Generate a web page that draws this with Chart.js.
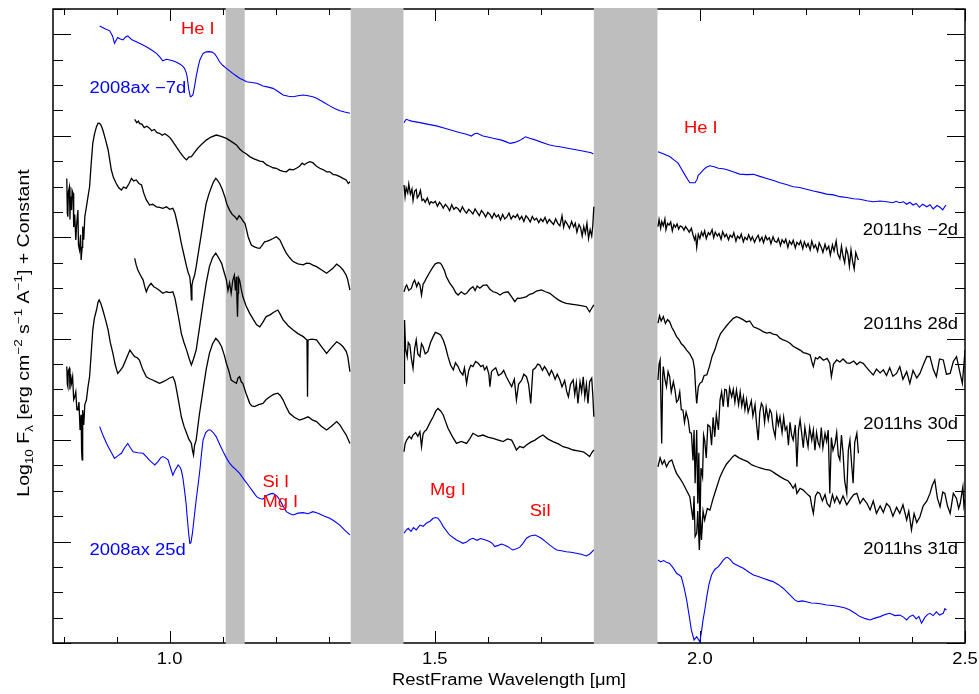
<!DOCTYPE html>
<html>
<head>
<meta charset="utf-8">
<script src="https://cdn.jsdelivr.net/npm/chart.js@4.4.1/dist/chart.umd.min.js"></script>
<style>
  html, body { margin: 0; padding: 0; background: #fff; }
  #wrap { width: 979px; height: 694px; }
</style>
</head>
<body>
<div id="wrap"><canvas id="chart" width="979" height="694"></canvas></div>
<script>
// спектры: [длина волны мкм, log F + константа], по сегментам между теллурическими окнами
const ax08m7 = [
  [[0.868,24.33],[0.878,24.22],[0.887,24.14],[0.892,23.95],[0.896,23.65],[0.902,23.88],[0.907,23.82],[0.912,23.78],[0.917,23.90],[0.921,23.94],[0.928,23.80],[0.937,23.71],[0.946,23.62],[0.956,23.51],[0.966,23.38],[0.975,23.25],[0.981,23.12],[0.987,22.96],[0.994,23.02],[1.000,22.99],[1.006,22.96],[1.013,22.90],[1.019,22.83],[1.024,22.76],[1.028,22.66],[1.031,22.50],[1.033,22.33],[1.036,21.83],[1.039,21.54],[1.041,21.56],[1.044,21.61],[1.047,21.95],[1.050,22.33],[1.054,22.75],[1.057,22.99],[1.063,23.25],[1.069,23.31],[1.075,23.32],[1.080,23.30],[1.085,23.23],[1.090,23.08],[1.094,22.92],[1.100,22.78],[1.107,22.66],[1.113,22.56],[1.119,22.46],[1.126,22.36],[1.132,22.27],[1.139,22.20],[1.145,22.13],[1.155,22.10],[1.164,22.07],[1.170,22.02],[1.176,21.96],[1.186,21.92],[1.195,21.87],[1.205,21.74],[1.214,21.61],[1.224,21.56],[1.233,21.54],[1.242,21.58],[1.252,21.61],[1.261,21.58],[1.270,21.54],[1.277,21.48],[1.283,21.41],[1.292,21.30],[1.302,21.18],[1.311,21.08],[1.321,20.99],[1.330,20.94],[1.340,20.89]],
  [[1.442,20.52],[1.446,20.65],[1.450,20.62],[1.456,20.58],[1.464,20.55],[1.472,20.52],[1.488,20.45],[1.503,20.39],[1.519,20.30],[1.535,20.20],[1.548,20.12],[1.560,20.06],[1.569,19.99],[1.575,20.08],[1.580,20.10],[1.591,19.99],[1.600,19.95],[1.610,19.90],[1.626,19.83],[1.635,19.76],[1.642,19.70],[1.651,19.74],[1.660,19.81],[1.667,19.90],[1.671,19.96],[1.679,19.90],[1.689,19.84],[1.698,19.77],[1.708,19.70],[1.717,19.64],[1.726,19.60],[1.736,19.57],[1.748,19.52],[1.761,19.47],[1.774,19.42],[1.786,19.37],[1.795,19.33],[1.799,19.28]],
  [[1.921,19.37],[1.932,19.28],[1.943,19.18],[1.951,19.05],[1.959,18.92],[1.965,18.70],[1.972,18.45],[1.977,18.28],[1.981,18.15],[1.991,18.15],[1.995,18.30],[1.997,18.45],[2.000,18.50],[2.006,18.65],[2.012,18.76],[2.019,18.82],[2.027,18.78],[2.035,18.72],[2.044,18.70],[2.053,18.65],[2.064,18.57],[2.075,18.49],[2.088,18.47],[2.101,18.48],[2.113,18.40],[2.126,18.32],[2.139,18.24],[2.151,18.15],[2.163,18.08],[2.176,17.99],[2.188,17.96],[2.201,17.89],[2.214,17.82],[2.226,17.77],[2.239,17.70],[2.252,17.67],[2.264,17.60],[2.277,17.57],[2.290,17.52],[2.302,17.50],[2.315,17.44],[2.327,17.40],[2.340,17.43],[2.352,17.40],[2.364,17.36],[2.370,17.42],[2.377,17.36],[2.384,17.40],[2.390,17.30],[2.396,17.38],[2.402,17.27],[2.408,17.33],[2.414,17.18],[2.420,17.30],[2.428,17.20],[2.434,17.28],[2.440,17.12],[2.447,17.25],[2.453,17.18],[2.458,17.08],[2.464,17.27]]
];

const hs11m2 = [
  [[0.934,20.65],[0.938,20.52],[0.941,20.58],[0.943,20.49],[0.948,20.45],[0.952,20.32],[0.957,20.38],[0.962,20.30],[0.966,20.20],[0.971,20.25],[0.976,20.12],[0.981,20.10],[0.986,20.02],[0.991,20.08],[0.997,19.99],[1.001,19.92],[1.006,19.77],[1.012,19.58],[1.019,19.37],[1.025,19.20],[1.029,19.10],[1.032,19.05],[1.036,19.16],[1.041,19.18],[1.047,19.35],[1.053,19.51],[1.061,19.68],[1.069,19.83],[1.078,19.95],[1.088,20.03],[1.097,19.98],[1.107,19.90],[1.116,19.78],[1.126,19.64],[1.132,19.48],[1.138,19.37],[1.145,19.28],[1.151,19.18],[1.158,19.10],[1.164,19.05],[1.170,19.00],[1.176,18.98],[1.183,18.85],[1.189,18.80],[1.195,18.74],[1.201,18.72],[1.208,18.64],[1.214,18.60],[1.220,18.58],[1.226,18.68],[1.233,18.66],[1.239,18.72],[1.245,18.80],[1.250,18.92],[1.254,18.86],[1.258,18.92],[1.264,18.98],[1.270,18.94],[1.277,18.80],[1.283,18.72],[1.290,18.66],[1.296,18.58],[1.302,18.58],[1.308,18.48],[1.315,18.45],[1.321,18.39],[1.327,18.32],[1.333,18.26],[1.337,18.12],[1.340,18.19]],
  [[1.442,18.06],[1.444,17.60],[1.446,17.95],[1.449,17.75],[1.451,18.10],[1.454,17.70],[1.457,17.90],[1.459,17.45],[1.462,17.82],[1.465,17.88],[1.467,17.55],[1.470,17.65],[1.473,17.85],[1.476,17.45],[1.479,17.50],[1.482,17.38],[1.486,17.55],[1.490,17.30],[1.493,17.40],[1.497,17.35],[1.501,17.42],[1.505,17.22],[1.509,17.38],[1.512,17.30],[1.516,17.15],[1.520,17.30],[1.524,17.20],[1.528,17.05],[1.532,17.28],[1.536,17.10],[1.540,17.18],[1.544,17.12],[1.548,17.00],[1.552,17.20],[1.556,17.05],[1.560,16.95],[1.564,17.10],[1.568,17.02],[1.572,16.92],[1.576,17.12],[1.580,16.98],[1.584,16.85],[1.588,17.05],[1.592,16.95],[1.596,16.80],[1.600,16.98],[1.604,16.90],[1.608,16.75],[1.612,16.95],[1.616,16.80],[1.620,16.88],[1.624,16.68],[1.628,16.90],[1.632,16.72],[1.636,16.80],[1.640,16.95],[1.644,16.72],[1.648,16.85],[1.652,16.78],[1.656,16.90],[1.660,16.70],[1.664,16.82],[1.668,16.62],[1.672,16.85],[1.676,16.75],[1.680,16.60],[1.684,16.82],[1.688,16.68],[1.692,16.75],[1.696,16.58],[1.700,16.72],[1.704,16.62],[1.708,16.78],[1.712,16.55],[1.716,16.70],[1.720,16.60],[1.724,16.50],[1.728,16.72],[1.732,16.55],[1.736,16.45],[1.740,16.85],[1.743,16.40],[1.746,16.65],[1.750,16.52],[1.754,16.35],[1.758,16.62],[1.762,16.40],[1.765,16.55],[1.768,16.20],[1.772,16.50],[1.775,16.38],[1.778,16.05],[1.781,16.42],[1.784,16.15],[1.787,16.55],[1.790,15.95],[1.793,16.30],[1.796,16.05],[1.798,16.45],[1.800,17.20]],
  [[1.921,16.42],[1.923,16.70],[1.926,16.35],[1.928,16.62],[1.931,16.45],[1.934,16.72],[1.936,16.30],[1.939,16.55],[1.942,16.48],[1.945,16.60],[1.948,16.25],[1.951,16.50],[1.954,16.40],[1.957,16.52],[1.960,16.32],[1.963,16.45],[1.967,16.40],[1.970,16.28],[1.973,16.42],[1.977,16.30],[1.980,16.20],[1.984,16.35],[1.987,16.10],[1.990,15.90],[1.992,16.05],[1.994,15.60],[1.997,16.12],[2.000,15.95],[2.003,16.20],[2.006,16.05],[2.009,16.25],[2.012,15.95],[2.016,16.18],[2.019,16.10],[2.023,16.30],[2.026,15.98],[2.029,16.20],[2.033,16.05],[2.036,16.15],[2.040,15.92],[2.043,16.22],[2.047,16.02],[2.050,16.12],[2.054,15.90],[2.057,16.08],[2.061,16.00],[2.064,16.18],[2.068,15.85],[2.071,16.05],[2.075,15.95],[2.078,16.12],[2.082,15.82],[2.085,16.00],[2.089,15.90],[2.092,16.10],[2.096,15.88],[2.099,16.02],[2.103,15.80],[2.106,15.95],[2.110,16.08],[2.113,15.85],[2.117,16.00],[2.120,15.78],[2.124,16.05],[2.127,15.90],[2.131,15.98],[2.134,15.75],[2.138,16.02],[2.141,15.85],[2.145,15.80],[2.148,15.95],[2.152,15.68],[2.155,15.90],[2.159,15.78],[2.162,15.92],[2.166,15.60],[2.169,15.85],[2.173,15.72],[2.176,15.88],[2.180,15.58],[2.183,15.80],[2.187,15.70],[2.190,15.85],[2.194,15.55],[2.197,15.82],[2.201,15.62],[2.204,15.75],[2.208,15.50],[2.211,15.85],[2.215,15.58],[2.218,15.70],[2.222,15.45],[2.225,15.78],[2.229,15.60],[2.232,15.40],[2.236,15.72],[2.239,15.50],[2.243,15.65],[2.246,15.30],[2.250,15.70],[2.253,15.45],[2.257,15.85],[2.260,15.35],[2.264,15.15],[2.267,15.65],[2.270,15.25],[2.273,15.00],[2.276,15.55],[2.279,15.35],[2.282,14.85],[2.285,15.50],[2.288,15.05],[2.291,14.75],[2.294,15.40],[2.297,15.20],[2.299,15.10]]
];

const hs11p28 = [
  [[0.806,18.32],[0.807,16.95],[0.808,16.81],[0.809,17.80],[0.811,17.99],[0.812,16.70],[0.813,17.60],[0.815,17.07],[0.816,17.85],[0.818,17.73],[0.819,16.40],[0.821,16.90],[0.823,15.89],[0.825,16.60],[0.827,17.07],[0.828,15.70],[0.830,15.50],[0.832,16.10],[0.833,15.10],[0.835,15.60],[0.836,16.42],[0.838,15.90],[0.840,16.81],[0.843,17.20],[0.846,17.60],[0.849,17.99],[0.852,18.90],[0.855,19.70],[0.858,20.05],[0.862,20.36],[0.865,20.50],[0.868,20.49],[0.871,20.40],[0.874,20.23],[0.879,19.85],[0.884,19.44],[0.887,19.05],[0.890,18.65],[0.894,18.35],[0.899,18.13],[0.904,17.95],[0.909,17.86],[0.913,17.98],[0.918,17.93],[0.923,18.10],[0.928,18.32],[0.932,18.22],[0.937,18.26],[0.942,18.12],[0.947,18.06],[0.951,17.75],[0.956,17.47],[0.960,17.35],[0.962,17.27],[0.968,17.30],[0.975,17.20],[0.981,17.18],[0.987,17.14],[0.994,17.20],[1.000,17.10],[1.006,17.14],[1.010,16.95],[1.013,16.68],[1.018,16.20],[1.022,15.76],[1.027,15.30],[1.032,14.84],[1.035,14.60],[1.038,14.44],[1.040,14.00],[1.041,13.53],[1.042,14.10],[1.044,14.31],[1.047,14.50],[1.050,14.84],[1.055,15.50],[1.060,16.16],[1.065,16.85],[1.069,17.34],[1.074,17.70],[1.079,17.99],[1.083,18.20],[1.087,18.32],[1.090,18.25],[1.094,18.13],[1.099,17.90],[1.104,17.60],[1.108,17.30],[1.113,17.07],[1.118,16.90],[1.123,16.81],[1.127,16.70],[1.131,16.85],[1.135,16.75],[1.139,16.62],[1.142,16.55],[1.145,16.30],[1.148,16.02],[1.151,15.85],[1.154,15.69],[1.160,15.62],[1.165,15.58],[1.170,15.56],[1.175,15.70],[1.179,15.82],[1.184,15.85],[1.189,15.89],[1.195,15.95],[1.201,16.02],[1.205,15.95],[1.208,15.89],[1.214,15.62],[1.220,15.37],[1.226,15.20],[1.233,15.04],[1.242,14.95],[1.252,14.91],[1.258,14.98],[1.264,14.97],[1.270,14.90],[1.277,14.84],[1.286,14.72],[1.296,14.58],[1.302,14.68],[1.308,14.78],[1.315,14.94],[1.321,14.85],[1.327,14.71],[1.333,14.50],[1.336,14.31],[1.340,13.92]],
  [[1.442,13.85],[1.445,14.05],[1.447,14.12],[1.451,13.90],[1.456,13.99],[1.459,14.20],[1.462,14.31],[1.466,14.05],[1.469,14.22],[1.472,14.12],[1.475,13.72],[1.478,14.15],[1.481,14.25],[1.484,14.38],[1.490,14.60],[1.497,14.84],[1.501,14.95],[1.506,15.00],[1.510,14.98],[1.513,14.91],[1.518,14.70],[1.522,14.44],[1.528,14.20],[1.535,13.99],[1.540,13.80],[1.544,13.72],[1.550,13.85],[1.556,13.75],[1.560,13.79],[1.566,13.95],[1.572,14.05],[1.576,13.90],[1.580,14.08],[1.585,13.99],[1.591,14.10],[1.598,14.12],[1.604,13.95],[1.610,13.85],[1.616,13.82],[1.623,13.72],[1.630,13.82],[1.638,13.85],[1.645,13.65],[1.651,13.46],[1.656,13.60],[1.660,13.59],[1.667,13.62],[1.673,13.66],[1.679,13.75],[1.685,13.79],[1.692,13.88],[1.701,13.92],[1.709,13.85],[1.717,13.79],[1.725,13.65],[1.733,13.53],[1.740,13.45],[1.748,13.39],[1.757,13.36],[1.767,13.33],[1.776,13.30],[1.786,13.26],[1.789,13.15],[1.792,13.06],[1.796,13.20],[1.800,13.33]],
  [[1.921,12.61],[1.924,12.90],[1.927,12.70],[1.931,12.87],[1.935,12.60],[1.939,12.75],[1.943,12.67],[1.947,12.45],[1.951,12.30],[1.956,12.08],[1.961,11.95],[1.965,11.80],[1.970,11.70],[1.975,11.55],[1.981,11.40],[1.987,11.16],[1.990,10.80],[1.992,10.00],[1.994,9.45],[1.997,10.10],[2.000,10.24],[2.004,10.30],[2.008,10.55],[2.013,10.57],[2.018,10.90],[2.023,11.30],[2.028,11.55],[2.034,11.95],[2.039,12.20],[2.044,12.34],[2.050,12.50],[2.057,12.67],[2.063,12.80],[2.069,12.87],[2.075,12.82],[2.082,12.74],[2.088,12.66],[2.094,12.70],[2.101,12.47],[2.107,12.42],[2.113,12.36],[2.119,12.28],[2.126,12.22],[2.132,12.25],[2.138,12.18],[2.145,12.15],[2.151,12.02],[2.157,11.95],[2.164,11.90],[2.170,11.82],[2.176,11.70],[2.183,11.62],[2.189,11.55],[2.195,11.45],[2.201,11.42],[2.208,11.36],[2.211,11.10],[2.214,10.90],[2.218,11.25],[2.222,11.20],[2.226,11.29],[2.233,11.15],[2.240,11.22],[2.245,11.03],[2.248,10.50],[2.252,11.00],[2.258,11.16],[2.264,11.08],[2.270,11.20],[2.277,11.05],[2.283,11.03],[2.290,11.12],[2.296,10.98],[2.302,11.08],[2.308,11.03],[2.315,10.85],[2.321,10.70],[2.327,10.57],[2.333,10.80],[2.340,10.65],[2.346,10.77],[2.352,10.55],[2.358,10.85],[2.364,10.52],[2.371,10.63],[2.377,10.90],[2.383,10.40],[2.390,10.70],[2.396,10.24],[2.402,10.75],[2.409,10.45],[2.415,10.63],[2.421,10.95],[2.428,11.30],[2.434,11.29],[2.440,10.80],[2.446,10.50],[2.452,11.20],[2.459,11.16],[2.465,10.60],[2.472,10.63],[2.478,11.10],[2.484,11.29],[2.490,10.70],[2.495,10.24],[2.498,11.00],[2.500,11.55]]
];

const hs11p30 = [
  [[0.934,15.17],[0.937,14.90],[0.940,14.71],[0.945,14.50],[0.950,14.31],[0.953,14.05],[0.956,13.85],[0.960,14.05],[0.965,14.18],[0.970,14.05],[0.975,13.99],[0.981,13.90],[0.987,13.79],[0.994,13.85],[1.000,13.82],[1.006,13.85],[1.010,13.60],[1.013,13.26],[1.018,12.70],[1.022,12.21],[1.027,11.85],[1.032,11.55],[1.037,11.20],[1.041,10.96],[1.045,11.20],[1.050,11.55],[1.056,12.40],[1.063,13.39],[1.069,14.20],[1.075,14.84],[1.081,15.20],[1.087,15.37],[1.092,15.20],[1.098,14.97],[1.103,14.60],[1.107,14.31],[1.110,13.90],[1.113,14.20],[1.116,13.79],[1.119,14.30],[1.122,14.50],[1.124,13.90],[1.126,14.44],[1.127,13.50],[1.128,12.87],[1.129,13.80],[1.130,14.40],[1.132,14.31],[1.135,13.95],[1.138,13.66],[1.144,13.30],[1.151,13.00],[1.158,12.75],[1.164,12.55],[1.170,12.47],[1.176,12.65],[1.182,12.87],[1.190,12.95],[1.197,13.05],[1.204,13.13],[1.209,12.95],[1.214,12.74],[1.224,12.50],[1.233,12.34],[1.242,12.20],[1.252,12.08],[1.259,11.95],[1.260,9.71],[1.261,11.95],[1.268,11.98],[1.277,11.95],[1.286,11.70],[1.296,11.42],[1.305,11.65],[1.315,11.88],[1.321,11.80],[1.327,11.68],[1.333,11.50],[1.336,11.29],[1.340,10.70]],
  [[1.442,10.24],[1.443,12.74],[1.445,11.60],[1.448,11.29],[1.450,11.85],[1.453,11.75],[1.456,11.20],[1.459,10.83],[1.462,11.60],[1.465,11.95],[1.468,11.40],[1.472,11.29],[1.475,11.80],[1.478,11.68],[1.482,11.40],[1.487,11.49],[1.492,11.85],[1.497,12.08],[1.501,12.25],[1.506,12.21],[1.511,12.15],[1.516,11.95],[1.520,11.70],[1.525,11.29],[1.530,10.95],[1.535,10.77],[1.539,11.05],[1.544,10.90],[1.548,10.70],[1.553,10.57],[1.556,10.85],[1.560,10.24],[1.564,10.75],[1.568,10.95],[1.572,10.90],[1.577,11.10],[1.582,11.03],[1.587,10.90],[1.591,10.95],[1.594,10.77],[1.598,10.90],[1.602,10.60],[1.604,10.11],[1.607,10.70],[1.610,10.77],[1.615,10.85],[1.620,10.55],[1.626,10.63],[1.630,10.75],[1.635,10.50],[1.640,10.30],[1.645,10.11],[1.650,10.40],[1.654,9.58],[1.658,10.20],[1.664,10.37],[1.668,10.60],[1.673,10.50],[1.677,10.20],[1.681,9.45],[1.685,10.77],[1.690,10.85],[1.694,11.00],[1.698,10.96],[1.703,10.75],[1.707,10.90],[1.711,10.77],[1.716,10.55],[1.720,10.75],[1.723,10.63],[1.727,10.40],[1.731,10.60],[1.736,10.37],[1.740,10.10],[1.745,10.35],[1.749,9.90],[1.752,9.71],[1.756,10.20],[1.761,10.37],[1.764,9.80],[1.767,10.25],[1.770,9.45],[1.774,10.30],[1.777,9.90],[1.780,10.50],[1.783,9.70],[1.786,10.20],[1.789,9.45],[1.792,10.30],[1.796,10.44],[1.798,9.80],[1.800,8.92]],
  [[1.921,10.37],[1.923,11.00],[1.925,11.16],[1.928,7.87],[1.930,10.60],[1.931,10.90],[1.934,10.40],[1.937,10.11],[1.940,10.70],[1.943,10.50],[1.946,9.90],[1.950,10.30],[1.953,9.98],[1.956,9.50],[1.959,9.58],[1.962,9.90],[1.965,9.20],[1.968,9.19],[1.971,8.70],[1.974,9.10],[1.978,8.79],[1.981,8.30],[1.984,8.27],[1.987,7.20],[1.989,8.40],[1.991,6.30],[1.994,8.40],[1.996,5.50],[1.998,7.50],[2.000,4.33],[2.002,6.90],[2.005,6.56],[2.007,8.20],[2.009,8.00],[2.012,7.30],[2.015,8.60],[2.019,8.53],[2.022,7.80],[2.025,8.90],[2.028,8.13],[2.031,9.00],[2.035,8.40],[2.038,9.58],[2.041,9.90],[2.044,9.32],[2.047,10.00],[2.050,9.98],[2.053,9.30],[2.056,10.05],[2.060,9.71],[2.063,10.00],[2.066,9.50],[2.069,9.98],[2.073,9.40],[2.076,9.90],[2.079,9.35],[2.082,9.71],[2.085,9.20],[2.088,9.60],[2.091,9.10],[2.094,9.32],[2.097,9.55],[2.100,8.95],[2.104,9.40],[2.107,8.60],[2.110,8.00],[2.113,9.10],[2.116,9.45],[2.119,9.32],[2.122,8.70],[2.125,9.30],[2.129,8.80],[2.132,9.20],[2.135,9.06],[2.138,8.50],[2.142,8.13],[2.145,9.00],[2.148,8.60],[2.151,8.92],[2.155,8.30],[2.158,8.90],[2.161,8.40],[2.164,8.53],[2.167,7.80],[2.170,8.70],[2.173,8.20],[2.176,8.00],[2.180,8.60],[2.183,6.95],[2.186,8.40],[2.189,8.80],[2.192,8.27],[2.195,7.70],[2.198,8.50],[2.201,8.10],[2.204,7.74],[2.207,8.50],[2.211,8.00],[2.214,8.40],[2.217,7.60],[2.220,8.30],[2.223,7.90],[2.226,7.74],[2.229,8.50],[2.232,7.70],[2.236,8.27],[2.239,7.95],[2.242,8.40],[2.245,5.90],[2.248,8.10],[2.251,7.60],[2.255,7.87],[2.258,8.30],[2.261,7.40],[2.264,7.22],[2.267,8.20],[2.270,7.50],[2.273,6.40],[2.277,5.90],[2.280,7.60],[2.283,8.00],[2.286,7.10],[2.289,6.30],[2.292,7.90],[2.296,8.27],[2.299,7.48]]
];

const hs11p31 = [
  [[0.806,10.90],[0.807,10.20],[0.808,10.11],[0.809,10.75],[0.811,10.83],[0.812,10.00],[0.813,10.60],[0.815,10.24],[0.817,10.50],[0.819,9.60],[0.821,9.71],[0.823,9.90],[0.825,9.20],[0.827,9.19],[0.829,9.50],[0.831,8.40],[0.832,8.40],[0.833,9.00],[0.834,7.50],[0.835,7.22],[0.836,9.19],[0.838,8.60],[0.840,9.40],[0.843,9.58],[0.846,10.10],[0.849,10.50],[0.852,11.40],[0.855,12.34],[0.858,12.80],[0.862,13.13],[0.865,13.45],[0.867,13.53],[0.870,13.40],[0.874,13.13],[0.879,12.75],[0.884,12.34],[0.888,11.85],[0.893,11.42],[0.897,11.00],[0.902,10.63],[0.907,10.75],[0.912,10.90],[0.918,11.20],[0.925,11.55],[0.930,11.40],[0.934,11.29],[0.939,11.25],[0.943,11.16],[0.949,10.80],[0.956,10.50],[0.962,10.42],[0.968,10.37],[0.975,10.30],[0.981,10.24],[0.987,10.30],[0.994,10.37],[1.000,10.45],[1.006,10.50],[1.010,10.30],[1.013,9.98],[1.018,9.40],[1.022,8.92],[1.027,8.55],[1.032,8.27],[1.036,8.05],[1.041,7.87],[1.043,7.60],[1.045,7.41],[1.047,7.80],[1.050,8.00],[1.056,9.00],[1.063,9.98],[1.069,10.80],[1.075,11.42],[1.081,11.80],[1.087,12.01],[1.092,11.90],[1.098,11.68],[1.103,11.35],[1.107,11.03],[1.112,10.70],[1.116,10.37],[1.121,10.30],[1.126,10.24],[1.129,10.45],[1.132,10.50],[1.135,10.30],[1.138,10.24],[1.144,9.85],[1.151,9.45],[1.155,9.35],[1.160,9.32],[1.168,9.40],[1.176,9.45],[1.182,9.60],[1.189,9.71],[1.196,9.80],[1.204,9.85],[1.209,9.75],[1.214,9.58],[1.220,9.30],[1.226,9.06],[1.235,8.90],[1.245,8.79],[1.253,8.85],[1.261,8.92],[1.269,8.80],[1.277,8.73],[1.286,8.55],[1.296,8.40],[1.305,8.55],[1.315,8.73],[1.321,8.60],[1.327,8.40],[1.333,8.20],[1.340,7.87]],
  [[1.442,7.54],[1.444,7.85],[1.447,8.00],[1.452,8.15],[1.456,8.05],[1.459,8.20],[1.464,8.30],[1.468,8.15],[1.472,8.33],[1.475,7.74],[1.478,8.25],[1.481,8.35],[1.484,8.40],[1.490,8.65],[1.497,8.92],[1.502,9.15],[1.506,9.25],[1.511,9.15],[1.516,8.99],[1.520,8.75],[1.525,8.47],[1.533,8.15],[1.541,7.87],[1.550,7.95],[1.560,7.87],[1.566,8.05],[1.572,8.27],[1.582,8.15],[1.591,8.20],[1.600,8.12],[1.610,8.07],[1.620,8.00],[1.629,7.94],[1.637,8.05],[1.645,8.00],[1.650,7.80],[1.654,7.61],[1.660,7.75],[1.667,7.70],[1.673,7.81],[1.681,7.92],[1.689,8.00],[1.697,8.12],[1.704,8.20],[1.713,8.05],[1.723,7.94],[1.733,7.85],[1.742,7.74],[1.752,7.68],[1.761,7.61],[1.770,7.58],[1.780,7.54],[1.786,7.45],[1.792,7.35],[1.796,7.50],[1.800,7.61]],
  [[1.921,6.95],[1.925,7.30],[1.929,7.05],[1.933,7.20],[1.937,6.95],[1.942,7.15],[1.947,7.22],[1.952,6.90],[1.956,6.69],[1.962,6.50],[1.968,6.30],[1.974,6.05],[1.981,5.77],[1.984,5.30],[1.987,4.85],[1.989,5.80],[1.991,4.20],[1.994,4.33],[1.996,5.20],[1.999,3.67],[2.001,5.00],[2.003,4.06],[2.006,5.20],[2.009,4.85],[2.014,5.30],[2.019,5.24],[2.025,5.70],[2.032,6.16],[2.038,6.55],[2.044,6.82],[2.050,7.05],[2.057,7.22],[2.062,7.35],[2.066,7.41],[2.074,7.30],[2.082,7.22],[2.090,7.15],[2.098,7.02],[2.107,6.95],[2.115,6.90],[2.123,6.85],[2.132,6.82],[2.141,6.70],[2.151,6.56],[2.160,6.45],[2.166,6.40],[2.170,6.30],[2.176,6.10],[2.180,6.25],[2.183,5.90],[2.189,6.10],[2.195,6.03],[2.201,5.90],[2.208,5.77],[2.211,5.40],[2.214,5.11],[2.218,5.80],[2.222,5.95],[2.226,5.90],[2.231,5.60],[2.236,5.85],[2.240,5.50],[2.245,5.37],[2.250,5.85],[2.254,5.55],[2.258,5.77],[2.264,5.50],[2.270,5.80],[2.277,5.45],[2.283,5.64],[2.290,5.85],[2.296,5.90],[2.302,5.50],[2.308,5.70],[2.315,5.51],[2.321,5.25],[2.327,5.60],[2.333,5.11],[2.340,5.40],[2.346,5.15],[2.352,5.50],[2.358,5.37],[2.364,5.00],[2.371,5.35],[2.377,5.11],[2.383,5.45],[2.390,4.85],[2.394,5.20],[2.399,4.46],[2.404,5.10],[2.409,4.75],[2.415,4.98],[2.421,5.40],[2.428,5.60],[2.434,5.90],[2.438,6.20],[2.443,6.43],[2.448,5.70],[2.453,5.37],[2.458,5.95],[2.462,5.90],[2.467,5.40],[2.472,5.11],[2.478,5.90],[2.484,5.70],[2.488,5.30],[2.491,5.51],[2.494,5.90],[2.496,6.16],[2.498,5.40],[2.500,5.64]]
];

const ax08p25 = [
  [[0.868,8.53],[0.874,8.20],[0.881,7.87],[0.889,7.55],[0.896,7.28],[0.902,7.38],[0.909,7.48],[0.915,7.70],[0.921,7.87],[0.926,7.70],[0.931,7.54],[0.940,7.50],[0.950,7.48],[0.956,7.35],[0.962,7.20],[0.968,7.09],[0.972,7.02],[0.978,7.15],[0.983,7.30],[0.987,7.35],[0.992,7.30],[0.997,7.22],[1.001,6.95],[1.006,6.62],[1.010,6.80],[1.016,7.02],[1.019,6.95],[1.022,6.82],[1.025,6.50],[1.028,6.03],[1.031,5.50],[1.033,4.98],[1.036,4.30],[1.038,3.93],[1.040,3.95],[1.043,4.33],[1.046,4.90],[1.050,5.64],[1.054,6.30],[1.057,6.82],[1.060,7.45],[1.063,8.00],[1.068,8.30],[1.073,8.40],[1.077,8.40],[1.082,8.30],[1.088,8.13],[1.094,7.85],[1.101,7.54],[1.107,7.30],[1.113,7.09],[1.119,6.95],[1.126,6.82],[1.132,6.69],[1.140,6.45],[1.148,6.23],[1.156,6.00],[1.164,5.77],[1.170,5.70],[1.176,5.67],[1.181,5.78],[1.185,5.84],[1.190,5.88],[1.195,5.90],[1.202,5.80],[1.208,5.64],[1.214,5.40],[1.220,5.18],[1.227,5.10],[1.233,5.05],[1.242,5.12],[1.252,5.14],[1.261,5.10],[1.270,5.18],[1.277,5.14],[1.283,5.09],[1.292,5.00],[1.302,4.92],[1.311,4.80],[1.321,4.65],[1.330,4.45],[1.340,4.26]],
  [[1.442,4.33],[1.446,4.45],[1.450,4.52],[1.455,4.40],[1.460,4.55],[1.465,4.46],[1.472,4.65],[1.478,4.60],[1.484,4.72],[1.491,4.80],[1.497,4.92],[1.502,4.95],[1.506,4.92],[1.511,4.78],[1.516,4.59],[1.522,4.42],[1.528,4.26],[1.535,4.15],[1.541,4.06],[1.547,4.00],[1.553,3.93],[1.560,3.98],[1.566,4.08],[1.572,4.13],[1.580,4.05],[1.586,4.12],[1.591,4.09],[1.597,4.05],[1.604,3.99],[1.609,3.92],[1.613,3.80],[1.620,3.85],[1.626,3.90],[1.632,3.85],[1.638,3.80],[1.643,3.72],[1.647,3.67],[1.654,3.72],[1.660,3.77],[1.666,3.92],[1.673,4.13],[1.680,4.22],[1.689,4.26],[1.695,4.20],[1.701,4.13],[1.709,4.00],[1.717,3.86],[1.724,3.75],[1.730,3.67],[1.739,3.64],[1.748,3.60],[1.757,3.58],[1.767,3.54],[1.776,3.50],[1.786,3.43],[1.793,3.52],[1.800,3.67]],
  [[1.921,3.27],[1.926,3.20],[1.932,3.25],[1.937,3.18],[1.943,3.14],[1.950,2.95],[1.956,2.75],[1.961,2.68],[1.965,2.61],[1.970,2.20],[1.975,1.70],[1.980,1.05],[1.984,0.51],[1.989,0.12],[1.994,0.25],[2.000,0.05],[2.003,0.45],[2.006,0.91],[2.010,1.40],[2.013,1.83],[2.017,2.30],[2.022,2.68],[2.028,2.90],[2.035,3.01],[2.040,3.15],[2.044,3.27],[2.048,3.35],[2.052,3.38],[2.057,3.30],[2.063,3.14],[2.072,3.05],[2.082,2.95],[2.092,2.80],[2.101,2.68],[2.110,2.62],[2.119,2.55],[2.129,2.48],[2.138,2.42],[2.148,2.30],[2.157,2.16],[2.165,2.00],[2.173,1.83],[2.179,1.70],[2.185,1.63],[2.193,1.66],[2.201,1.63],[2.210,1.58],[2.220,1.57],[2.230,1.54],[2.239,1.50],[2.250,1.48],[2.264,1.43],[2.274,1.38],[2.283,1.30],[2.292,1.18],[2.302,1.04],[2.312,0.96],[2.321,0.91],[2.330,0.98],[2.340,1.04],[2.349,1.12],[2.358,1.17],[2.368,1.08],[2.377,1.10],[2.384,1.02],[2.390,0.91],[2.396,1.05],[2.402,1.10],[2.408,0.95],[2.413,1.05],[2.418,0.78],[2.424,1.00],[2.429,1.12],[2.434,1.17],[2.440,1.08],[2.446,1.23],[2.452,1.10],[2.459,1.17],[2.462,1.35],[2.465,1.30]]
];

// подписи линий и названия спектров
const seriesNames = ['2008ax \u22127d', '2011hs \u22122d', '2011hs 28d', '2011hs 30d', '2011hs 31d', '2008ax 25d'];
const seriesData = [ax08m7, hs11m2, hs11p28, hs11p30, hs11p31, ax08p25];
const seriesColors = ['#0000ff', '#000000', '#000000', '#000000', '#000000', '#0000ff'];

// полосы без данных (теллурика), мкм
const bands = [[1.1057, 1.1415], [1.3415, 1.441], [1.80, 1.92]];
const xTickLabels = [1.0, 1.5, 2.0, 2.5];

const annotations = [
  { text: 'He I', x: 1.053, y: 24.17, align: 'center', color: '#ff0000' },
  { text: seriesNames[0], x: 0.849, y: 21.85, align: 'left', color: '#0000ff' },
  { text: 'He I', x: 1.970, y: 20.27, align: 'left', color: '#ff0000' },
  { text: seriesNames[1], x: 2.487, y: 16.25, align: 'right', color: '#000000' },
  { text: seriesNames[2], x: 2.487, y: 12.54, align: 'right', color: '#000000' },
  { text: seriesNames[3], x: 2.487, y: 8.60, align: 'right', color: '#000000' },
  { text: seriesNames[4], x: 2.487, y: 3.67, align: 'right', color: '#000000' },
  { text: 'Si I', x: 1.175, y: 6.31, align: 'left', color: '#ff0000' },
  { text: 'Mg I', x: 1.175, y: 5.52, align: 'left', color: '#ff0000' },
  { text: 'Mg I', x: 1.491, y: 5.99, align: 'left', color: '#ff0000' },
  { text: 'SiI', x: 1.679, y: 5.20, align: 'left', color: '#ff0000' },
  { text: seriesNames[5], x: 0.849, y: 3.63, align: 'left', color: '#0000ff' }
];

const STRETCH = 1.15;
const FONT = '"Liberation Sans", Arial, Helvetica, sans-serif';

function joinSegments(segs) {
  let out = [];
  segs.forEach((seg, i) => {
    if (i > 0) out.push({ x: (out[out.length - 1].x + seg[0][0]) / 2, y: null });
    seg.forEach(p => out.push({ x: p[0], y: p[1] }));
  });
  return out;
}

function stretchedText(ctx, str, x, y, align, color, size) {
  ctx.save();
  ctx.font = size + 'px ' + FONT;
  ctx.fillStyle = color;
  ctx.textBaseline = 'middle';
  ctx.textAlign = 'left';
  const w = ctx.measureText(str).width * STRETCH;
  let x0 = x - w / 2;
  if (align === 'left') x0 = x;
  if (align === 'right') x0 = x - w;
  ctx.translate(x0, y);
  ctx.scale(STRETCH, 1);
  ctx.fillText(str, 0, 0);
  ctx.restore();
}

const framePlugin = {
  id: 'frame',
  beforeDatasetsDraw(chart) {
    const ctx = chart.ctx;
    const a = chart.chartArea;
    const xs = chart.scales.x, ys = chart.scales.y;
    ctx.save();
    ctx.strokeStyle = '#000';
    ctx.lineWidth = 1.5;
    ctx.strokeRect(a.left, a.top, a.right - a.left, a.bottom - a.top);
    ctx.lineWidth = 1;
    ctx.beginPath();
    for (let i = 8; i <= 25; i++) {
      const v = i / 10;
      const px = Math.round(xs.getPixelForValue(v)) + 0.5;
      const len = (i % 5 === 0) ? 12 : 6;
      ctx.moveTo(px, a.bottom); ctx.lineTo(px, a.bottom - len);
      ctx.moveTo(px, a.top); ctx.lineTo(px, a.top + len);
    }
    for (let v = 0; v <= 25; v++) {
      const py = Math.round(ys.getPixelForValue(v)) + 0.5;
      const len = (v % 4 === 0) ? 18 : 10;
      ctx.moveTo(a.left, py); ctx.lineTo(a.left + len, py);
      ctx.moveTo(a.right, py); ctx.lineTo(a.right - len, py);
    }
    ctx.stroke();
    ctx.fillStyle = '#bebebe';
    bands.forEach(b => {
      const x1 = xs.getPixelForValue(b[0]), x2 = xs.getPixelForValue(b[1]);
      ctx.fillRect(x1, a.top - 1, x2 - x1, a.bottom - a.top + 2);
    });
    ctx.restore();
  },
  afterDatasetsDraw(chart) {
    const ctx = chart.ctx;
    const a = chart.chartArea;
    const xs = chart.scales.x, ys = chart.scales.y;
    annotations.forEach(t => {
      stretchedText(ctx, t.text, xs.getPixelForValue(t.x), ys.getPixelForValue(t.y), t.align, t.color, 16);
    });
    xTickLabels.forEach(v => {
      stretchedText(ctx, v.toFixed(1), xs.getPixelForValue(v), a.bottom + 17, 'center', '#000', 16);
    });
    stretchedText(ctx, 'RestFrame Wavelength [\u03bcm]', (a.left + a.right) / 2, a.bottom + 38, 'center', '#000', 16);

    // подпись оси Y с индексами
    const parts = [
      ['Log', 0], ['10', 1], [' F', 0], ['\u03bb', 1], [' [erg cm', 0], ['\u22122', -1],
      [' s', 0], ['\u22121', -1], [' A', 0], ['\u22121', -1], ['] + Constant', 0]
    ];
    ctx.save();
    ctx.translate(25, (a.top + a.bottom) / 2 + 7);
    ctx.rotate(-Math.PI / 2);
    ctx.fillStyle = '#000';
    ctx.textBaseline = 'middle';
    ctx.textAlign = 'left';
    const ST = 1.22;
    let total = 0;
    const widths = parts.map(p => {
      ctx.font = (p[1] === 0 ? 16 : 11) + 'px ' + FONT;
      const w = ctx.measureText(p[0]).width * ST;
      total += w;
      return w;
    });
    let cx = -total / 2;
    parts.forEach((p, i) => {
      ctx.font = (p[1] === 0 ? 16 : 11) + 'px ' + FONT;
      const dy = p[1] === 1 ? 5 : (p[1] === -1 ? -6 : 0);
      ctx.save();
      ctx.translate(cx, dy);
      ctx.scale(ST, 1);
      ctx.fillText(p[0], 0, 0);
      ctx.restore();
      cx += widths[i];
    });
    ctx.restore();
  }
};

const ctx = document.getElementById('chart').getContext('2d');
const myChart = new Chart(ctx, {
  type: 'line',
  data: {
    datasets: seriesData.map((segs, i) => ({
      label: seriesNames[i],
      data: joinSegments(segs),
      borderColor: seriesColors[i],
      borderWidth: seriesColors[i] === '#0000ff' ? 1.1 : 1.3,
      pointRadius: 0,
      tension: 0,
      spanGaps: false
    }))
  },
  options: {
    responsive: false,
    animation: false,
    layout: { padding: { left: 53, right: 14, top: 9, bottom: 51 } },
    plugins: { legend: { display: false }, tooltip: { enabled: false } },
    scales: {
      x: { type: 'linear', min: 0.78, max: 2.5, display: false },
      y: { type: 'linear', min: 0, max: 25, display: false }
    }
  },
  plugins: [framePlugin]
});
</script>
</body>
</html>
